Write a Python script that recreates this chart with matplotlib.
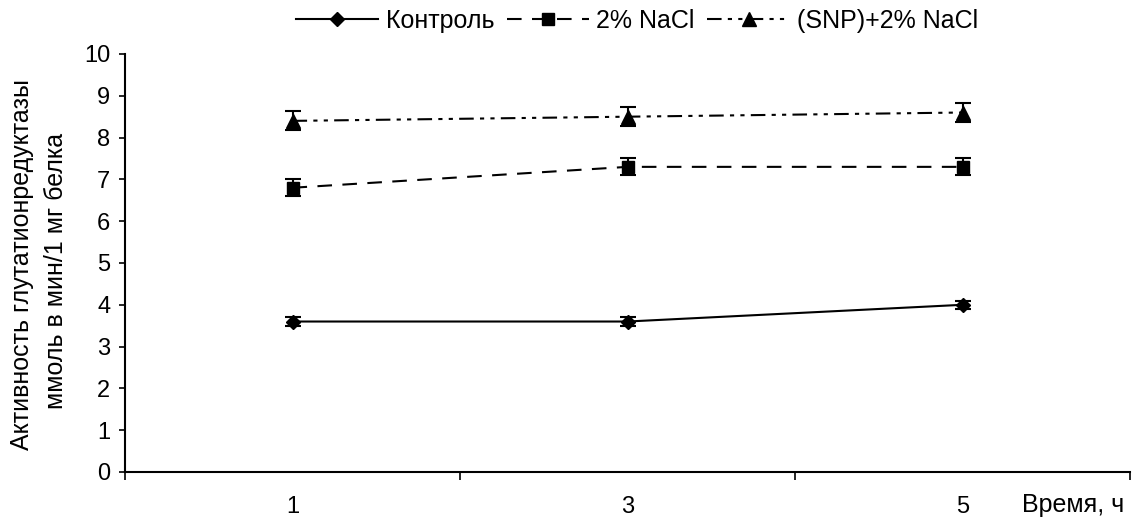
import matplotlib
matplotlib.use('Agg')
import matplotlib.pyplot as plt
from matplotlib.lines import Line2D

plt.rcParams['font.family'] = ['Liberation Sans', 'DejaVu Sans']
plt.rcParams['font.size'] = 17

# data
time_labels = ['1', '3', '5']
control = [3.6, 3.6, 4.0]
control_err = [0.1, 0.1, 0.1]
nacl = [6.8, 7.3, 7.3]
nacl_err = [0.2, 0.2, 0.2]
snp_nacl = [8.4, 8.5, 8.6]
snp_nacl_err = [0.23, 0.23, 0.23]
series_labels = ['Контроль', '2% NaCl', '(SNP)+2% NaCl']

x = list(range(len(time_labels)))

W, H = 1132, 518
fig = plt.figure(figsize=(W / 100, H / 100), dpi=100)
ax = fig.add_axes([125 / W, 1 - 472 / H, (1130 - 125) / W, (472 - 54) / H])

styles = [
    dict(linestyle='-', marker='D', markersize=7.5),
    dict(linestyle=(0, (7, 5)), marker='s', markersize=8.5),
    dict(linestyle=(0, (7, 3, 2, 3, 2, 3)), marker='^', markersize=10),
]
series = [(control, control_err), (nacl, nacl_err), (snp_nacl, snp_nacl_err)]

handles = []
for (vals, errs), st, lab in zip(series, styles, series_labels):
    ax.errorbar(x, vals, yerr=errs, color='black', ecolor='black', linewidth=1.5,
                elinewidth=1.5, capsize=5.5, capthick=1.5, **st)
    handles.append(Line2D([], [], color='black', linewidth=1.5, label=lab, **st))

ax.set_xlim(-0.5, len(x) - 0.5)
ax.set_ylim(0, 10)
ax.set_yticks(range(0, 11))
ax.set_xticks(x)
ax.set_xticklabels(time_labels)
ax.set_xticks([i - 0.5 for i in range(len(x) + 1)], minor=True)
ax.tick_params(axis='x', which='major', length=0, pad=17)
ax.tick_params(axis='x', which='minor', length=5.5, width=1.2, direction='out')
ax.tick_params(axis='y', length=4.5, width=1.2, direction='out', pad=6)

for side in ['top', 'right']:
    ax.spines[side].set_visible(False)
for side in ['left', 'bottom']:
    ax.spines[side].set_linewidth(1.5)

# y-axis title, two lines
fig.text(22 / W, 1 - 265 / H, 'Активность глутатионредуктазы', rotation=90,
         ha='center', va='center', fontsize=18)
fig.text(56 / W, 1 - 271 / H, 'ммоль в мин/1 мг белка', rotation=90,
         ha='center', va='center', fontsize=18)
fig.text(1073 / W, 1 - 505 / H, 'Время, ч', ha='center', va='center', fontsize=18)

fig.legend(handles=handles, loc='center', bbox_to_anchor=(637 / W, 1 - 21 / H),
           ncol=3, frameon=False, handlelength=3.3, handletextpad=0.3,
           columnspacing=0.5, fontsize=18)

fig.savefig('out.png', dpi=100)
